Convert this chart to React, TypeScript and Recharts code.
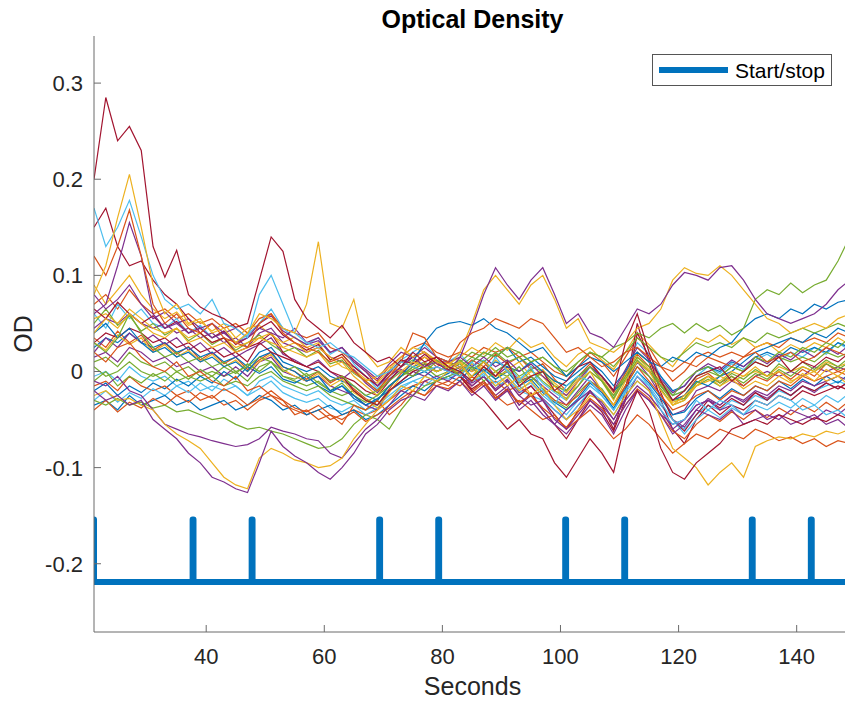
import { ComposedChart, Line, XAxis, YAxis, Legend } from "recharts"

// time grid (s)
const seconds = [
  21, 23, 25, 27, 29, 31, 33, 35, 37, 39,
  41, 43, 45, 47, 49, 51, 53, 55, 57, 59,
  61, 63, 65, 67, 69, 71, 73, 75, 77, 79,
  81, 83, 85, 87, 89, 91, 93, 95, 97, 99,
  101, 103, 105, 107, 109, 111, 113, 115, 117, 119,
  121, 123, 125, 127, 129, 131, 133, 135, 137, 139,
  141, 143, 145, 147, 149,
]

// channel traces in milli-OD
const m1 = [70, 80, 65, 85, 70, 60, 65, 55, 60, 50, 55, 45, 50, 40, 55, 60, 45, 40, 35, 40, 25, 20, 10, 0, -10, 5, 15, 25, 30, 20, 15, 20, 15, 25, 20, 25, 15, 20, 10, 0, -5, 5, 20, 10, -5, 15, 35, 25, 5, -10, 0, 15, 20, 15, 20, 15, 25, 30, 25, 35, 30, 35, 30, 40, 35]
const m2 = [45, 55, 50, 60, 50, 45, 50, 40, 45, 35, 40, 30, 35, 25, 40, 45, 30, 25, 20, 25, 15, 10, 5, -5, -15, 0, 10, 15, 20, 10, 10, 5, 0, 10, -5, 5, -10, -5, -15, -25, -35, -20, -5, -20, -40, -15, 10, -5, -25, -45, -40, -20, -15, -20, -10, -15, -5, 0, -5, 0, -5, 5, 0, 5, 0]
const m3 = [25, 35, 30, 40, 30, 25, 30, 20, 25, 15, 20, 10, 15, 5, 20, 25, 10, 5, 0, 5, -5, -10, -15, -25, -30, -15, -5, 5, 10, 0, 5, 0, 10, 20, 15, 25, 10, 15, 5, -5, -10, 0, 10, 0, -15, 0, 20, 10, -5, -20, -15, 0, 5, 0, 10, 5, 15, 20, 15, 25, 20, 25, 20, 30, 25]
const m4 = [10, 15, 5, 20, 10, 5, 10, 0, 5, -5, 0, -5, 0, -10, 5, 10, -5, -10, -15, -10, -20, -25, -20, -30, -35, -20, -10, 0, 5, -5, 0, 5, 15, 10, 20, 10, 15, 5, 0, -10, -15, -5, 5, -5, -20, -5, 10, 0, -10, -25, -20, -5, 0, -5, 5, 0, 10, 5, 15, 10, 15, 10, 20, 15, 20]
const m5 = [-5, 0, -10, 5, -5, -10, -5, -15, -10, -20, -15, -20, -15, -25, -10, -5, -15, -20, -25, -20, -30, -35, -30, -40, -35, -25, -15, -10, -5, -10, -5, 0, -10, -5, -15, -10, -20, -25, -30, -40, -50, -35, -20, -30, -45, -25, -10, -20, -35, -50, -60, -45, -35, -40, -30, -35, -25, -30, -20, -25, -15, -20, -15, -10, -15]
const m6 = [30, 40, 35, 45, 40, 30, 35, 25, 30, 20, 25, 15, 20, 10, 30, 40, 20, 10, 5, 10, 0, -5, -10, -20, -25, -10, 5, 15, 20, 10, 5, -5, -15, -5, -20, -10, -25, -15, -30, -45, -60, -40, -20, -35, -60, -20, 50, 10, -30, -60, -75, -50, -35, -45, -35, -40, -30, -35, -25, -30, -20, -25, -20, -15, -20]
const m7 = [55, 60, 50, 65, 55, 45, 40, 45, 35, 40, 30, 35, 25, 30, 35, 40, 25, 20, 15, 20, 5, 10, -5, -15, -25, -5, 10, 5, 15, 10, 0, 10, 0, 5, -5, 0, -10, 0, -5, -20, -25, -15, 0, -10, -30, -5, 20, 10, -10, -35, -30, -15, -10, -5, -10, -5, 0, -5, 5, 0, 5, 0, 10, 5, 10]
const m8 = [-15, -10, -20, -5, -15, -20, -15, -25, -20, -30, -25, -35, -30, -40, -30, -25, -35, -40, -45, -40, -50, -45, -40, -45, -40, -30, -20, -15, -10, -15, -10, -15, -5, -15, -10, -20, -15, -25, -20, -30, -35, -25, -10, -20, -35, -15, 5, -10, -25, -40, -35, -25, -20, -30, -20, -25, -15, -20, -10, -15, -5, -10, -5, 0, -5]
const m9 = [15, 20, 10, 25, 20, 10, 15, 5, 10, 0, 5, -5, 5, -5, 10, 15, 0, -5, -10, -5, -15, -20, -25, -35, -40, -20, -10, 0, -5, 5, 0, -5, -20, -10, -25, -15, -35, -25, -40, -55, -65, -50, -35, -45, -65, -40, -20, -30, -45, -55, -50, -35, -30, -35, -25, -30, -20, -25, -15, -20, -10, -15, -10, -5, -10]
const m10 = [-35, -30, -40, -25, -35, -30, -25, -35, -30, -40, -35, -30, -40, -35, -25, -30, -40, -35, -45, -40, -35, -45, -40, -50, -45, -35, -25, -15, -20, -10, -5, -10, 5, 0, 10, 5, 0, 10, 0, -10, -15, -5, 5, -5, -20, -10, 10, 0, -15, -30, -25, -10, -15, -5, 0, 10, 20, 25, 30, 35, 30, 40, 35, 45, 40]
const m11 = [5, -5, 0, 10, 0, -5, 0, -10, -5, -10, -5, -15, -10, -15, -5, 0, -10, -15, -20, -15, -25, -30, -35, -40, -30, -15, -5, 5, 0, 10, 5, 10, 20, 15, 25, 15, 20, 10, 15, 5, -5, 10, 20, 15, 5, 20, 35, 25, 15, 10, 20, 30, 25, 30, 25, 35, 30, 40, 35, 40, 45, 40, 45, 50, 45]
const n1 = [60, 45, 70, 55, 65, 50, 45, 55, 40, 48, 35, 42, 30, 38, 50, 65, 45, 35, 28, 35, 18, 25, 8, -5, -18, 0, 12, 20, 28, 15, 10, 18, 5, 12, 0, 8, -8, 2, -12, -22, -30, -15, 5, -8, -28, 0, 30, 18, -5, -25, -20, -5, 5, -2, 8, 2, 12, 18, 10, 20, 15, 25, 18, 30, 22]
const n2 = [35, 25, 42, 30, 38, 22, 30, 18, 26, 12, 20, 8, 15, 2, 12, 20, 5, 0, -8, 0, -12, -5, -18, -28, -35, -18, -2, 8, 15, 5, 10, 2, 12, 5, 18, 8, 15, 2, 8, -8, -20, -5, 8, -5, -22, -2, 18, 5, -12, -30, -25, -8, -2, -12, -5, -15, -5, -10, 0, -8, 2, -5, 8, 0, 5]
const n3 = [90, 70, 85, 100, 80, 65, 55, 62, 48, 52, 42, 50, 35, 45, 48, 38, 30, 36, 25, 30, 12, 18, 2, -8, -12, 2, 15, 25, 20, 12, 8, 15, 25, 18, 30, 22, 35, 25, 30, 15, 5, 18, 25, 12, 2, 20, 40, 28, 15, 5, 22, 35, 30, 38, 28, 35, 25, 30, 20, 28, 22, 30, 25, 35, 28]
const n4 = [20, 35, 25, 40, 30, 38, 28, 35, 22, 30, 18, 25, 15, 22, 28, 35, 18, 12, 5, 12, 0, -8, 2, -12, -22, -8, 2, -5, 8, 0, 5, -2, -12, -5, -18, -8, -22, -15, -28, -40, -50, -35, -22, -32, -50, -28, -5, -18, -35, -50, -58, -40, -28, -35, -25, -32, -22, -28, -18, -25, -15, -22, -12, -18, -10]
const n5 = [50, 65, 48, 58, 42, 50, 38, 45, 32, 40, 28, 35, 22, 30, 38, 28, 20, 25, 15, 22, 8, 12, -2, -10, -20, -5, 5, 12, 5, 12, 2, 8, -5, 5, -8, 2, -12, -5, -18, -30, -38, -22, -10, -18, -35, -15, 5, -5, -18, -35, -30, -15, -8, -15, -5, -12, -2, -8, 2, -5, 5, 0, 8, 2, 10]
const n6 = [-20, -12, -25, -15, -22, -12, -18, -8, -15, -5, -12, 0, -8, 5, -2, 5, -8, -12, -5, -15, -22, -15, -28, -35, -28, -20, -12, -5, 0, -8, -2, 5, -5, 2, -8, 0, -15, -8, -22, -32, -40, -28, -12, -22, -38, -18, 0, -12, -28, -45, -42, -28, -20, -28, -18, -25, -15, -20, -10, -18, -8, -15, -5, -12, -2]
const n7 = [65, 55, 72, 60, 50, 58, 45, 52, 40, 45, 35, 42, 28, 35, 45, 52, 38, 30, 22, 28, 12, 18, 5, -5, -15, -2, 12, 8, 18, 8, 2, -5, -18, -10, -28, -18, -35, -22, -40, -55, -70, -50, -30, -42, -62, -30, 40, 15, -22, -50, -62, -45, -30, -38, -28, -35, -22, -30, -18, -25, -15, -20, -12, -18, -10]
const n8 = [-30, -20, -32, -22, -28, -18, -25, -15, -22, -12, -20, -8, -15, -25, -18, -10, -22, -28, -32, -28, -38, -42, -35, -45, -38, -28, -18, -10, -15, -5, -8, 0, -10, -2, -12, -5, -18, -12, -25, -35, -45, -30, -15, -25, -40, -22, -5, -15, -32, -50, -65, -50, -40, -48, -38, -45, -35, -40, -32, -38, -28, -35, -25, -32, -22]
const n9 = [30, 22, 38, 28, 35, 20, 28, 15, 22, 10, 18, 5, 12, 0, 10, 18, 2, -5, -10, -2, -15, -8, -22, -30, -38, -22, -5, 2, 10, 0, 5, -2, 8, 0, 12, 2, 10, -5, 2, -12, -22, -8, 5, -8, -25, -5, 15, 2, -15, -32, -28, -12, -5, -15, -8, -18, -10, -15, -5, -12, -2, -10, 2, -5, 5]
const n10 = [-10, 0, -15, -5, -12, -2, -10, 0, -8, 2, -5, 5, -2, 8, 0, 10, -5, -8, -2, -12, -20, -12, -25, -32, -25, -15, -5, 2, 8, 0, 5, 12, 2, 10, 0, 8, -5, 2, -10, -20, -28, -15, 0, -10, -28, -8, 12, 0, -15, -30, -28, -12, -5, -12, -2, -8, 2, -5, 8, 0, 10, 2, 12, 5, 15]
const n11 = [80, 65, 75, 90, 70, 55, 62, 50, 55, 45, 50, 40, 45, 35, 50, 58, 42, 35, 28, 32, 20, 25, 12, 2, -8, 8, 20, 15, 25, 15, 10, 15, 5, 15, 5, 12, 0, 8, -5, -15, -25, -10, 5, -5, -20, 2, 25, 12, -8, -22, -15, 0, 8, 2, 12, 5, 15, 8, 18, 12, 22, 15, 25, 18, 28]
const n12 = [-40, -30, -42, -32, -38, -28, -35, -25, -32, -22, -28, -18, -25, -35, -28, -20, -30, -38, -42, -35, -45, -50, -42, -52, -45, -38, -28, -20, -25, -15, -18, -10, -22, -12, -28, -20, -32, -25, -38, -48, -58, -42, -28, -38, -55, -35, -18, -28, -45, -62, -70, -55, -45, -52, -42, -50, -40, -48, -38, -45, -35, -42, -32, -40, -30]
const r1 = [200, 285, 240, 255, 230, 130, 98, 126, 80, 67, 60, 55, 46, 50, 95, 140, 125, 75, 55, 45, 35, 48, 30, 20, 10, 15, 5, 20, 10, 15, 5, 0, -10, 5, -5, 10, -15, -5, 0, -20, -10, 5, 10, -5, -20, 30, 60, 20, -10, -30, -20, -5, 0, 5, -10, 0, 10, 5, 15, 0, 10, 5, 15, 10, 20]
const y1 = [80, 110, 160, 205, 150, 90, 60, 70, 50, 55, 40, 45, 30, 40, 60, 55, 45, 40, 70, 135, 50, 45, 75, 20, 5, 10, 25, 15, 20, 10, 5, 10, -10, 0, -15, -5, -20, -10, -25, -15, -30, -10, 0, -20, -35, -10, 10, 0, -20, -35, -25, -15, -5, -10, 0, -5, 5, -5, 0, -10, -5, 0, -10, -5, -15]
const lb1 = [170, 130, 150, 178, 140, 100, 75, 65, 70, 60, 75, 50, 45, 35, 80, 100, 70, 40, 30, 25, 30, 20, 15, 5, -5, 0, 10, 5, 0, 5, 0, -5, 10, -5, 15, 0, -10, 5, -20, -35, -15, -5, -10, -25, -40, -20, 0, -15, -40, -55, -50, -30, -40, -30, -35, -45, -30, -35, -25, -30, -40, -35, -45, -40, -50]
const o1 = [120, 100, 130, 168, 120, 70, 50, 60, 45, 40, 50, 35, 30, 25, 50, 60, 40, 30, 25, 20, 10, 15, 0, -10, -20, -5, 10, 40, 35, 15, 10, 30, 40, 45, 55, 50, 45, 55, 50, 35, 20, 25, 15, 5, 10, 20, 25, 15, 5, 0, 10, 5, 15, 10, 5, 15, 20, 10, 15, 20, 10, 15, 25, 20, 15]
const p1 = [60, 70, 110, 155, 120, 60, 45, 50, 40, 45, 35, 40, 30, 35, 45, 40, 35, 45, 30, 35, 20, 25, 10, 0, -15, -5, 5, 15, 5, 10, 0, 15, 45, 80, 108, 90, 75, 95, 108, 80, 50, 60, 40, 35, 25, 45, 65, 60, 70, 90, 103, 100, 95, 108, 110, 95, 75, 60, 55, 50, 55, 60, 70, 85, 95]
const y2 = [40, 55, 45, 60, 50, 40, 35, 45, 30, 35, 25, 30, 20, 25, 35, 30, 25, 30, 20, 25, 15, 5, 0, -10, -5, 5, 0, 10, 5, 0, 5, 20, 50, 85, 100, 85, 70, 90, 100, 75, 45, 55, 30, 25, 20, 30, 45, 50, 65, 95, 108, 102, 100, 110, 100, 85, 70, 55, 50, 40, 45, 50, 45, 55, 60]
const g1 = [30, 20, 35, 60, 40, 25, 15, 20, 10, 15, 5, 10, 0, 5, 15, 10, 0, 5, -5, 0, -10, -5, -15, -25, -20, -10, 0, -5, 5, 0, 5, -5, 10, 20, 15, 25, 20, 10, 15, 5, 0, 10, 20, 15, 25, 30, 40, 35, 45, 50, 40, 50, 42, 48, 38, 45, 75, 85, 80, 92, 82, 90, 95, 115, 140]
const p2 = [-20, -30, -25, -35, -30, -50, -60, -70, -85, -95, -110, -115, -122, -126, -95, -62, -78, -88, -95, -105, -112, -100, -85, -65, -55, -40, -30, -25, -30, -15, -20, -10, -25, -15, -30, -20, -40, -30, -45, -55, -40, -30, -20, -35, -50, -30, -15, -25, -40, -60, -50, -35, -30, -40, -35, -45, -40, -50, -45, -55, -50, -45, -55, -50, -60]
const p3 = [-10, -15, -5, -20, -25, -40, -55, -60, -65, -68, -72, -75, -78, -76, -70, -58, -62, -65, -70, -72, -85, -90, -75, -60, -50, -35, -20, -25, -10, -5, -10, 0, -15, -5, -20, -10, -25, -35, -30, -50, -60, -45, -30, -40, -55, -35, -20, -30, -45, -65, -55, -40, -45, -50, -40, -55, -50, -45, -50, -40, -45, -50, -40, -45, -35]
const y3 = [-25, -20, -30, -28, -35, -40, -55, -65, -72, -80, -95, -110, -118, -122, -90, -80, -85, -92, -95, -100, -98, -90, -70, -55, -40, -30, -15, -20, -5, -10, 0, 5, -5, 10, 0, -15, -5, -25, -15, -35, -50, -40, -25, -30, -45, -25, -10, -20, -50, -80, -90, -100, -118, -105, -95, -110, -78, -72, -68, -70, -65, -68, -62, -65, -60]
const g2 = [-30, -35, -28, -35, -32, -38, -35, -42, -40, -45, -50, -48, -55, -60, -58, -62, -65, -70, -75, -80, -78, -70, -55, -45, -50, -60, -40, -25, -15, -10, -5, 0, 5, -10, 0, -5, 5, -10, 0, -15, -20, -5, 5, -10, -25, -5, 15, 5, -15, -25, -10, 0, 5, -5, 5, 0, 15, 10, 20, 15, 25, 20, 30, 25, 35]
const r2 = [150, 170, 130, 110, 115, 95, 80, 70, 55, 40, 30, 35, 20, 25, 30, 20, 15, 10, 5, 0, -10, -5, -20, -30, -35, -20, -10, 0, 5, 15, 5, -5, -20, -30, -45, -60, -50, -65, -70, -95, -110, -90, -70, -85, -105, -50, -20, -40, -80, -105, -112, -95, -85, -75, -60, -55, -50, -55, -45, -50, -55, -48, -52, -45, -50]
const o2 = [20, 10, 25, 30, 15, 5, 0, 10, -5, 0, -10, -15, -5, -20, -15, -25, -30, -45, -40, -50, -45, -55, -35, -40, -30, -45, -35, -20, -25, -10, -15, -5, -20, -10, -25, -35, -30, -40, -50, -45, -60, -50, -40, -55, -70, -60, -45, -55, -70, -85, -75, -65, -70, -60, -65, -70, -60, -65, -72, -68, -75, -70, -78, -72, -75]
const b1 = [40, 50, 35, 45, 30, 20, 25, 15, 20, 10, 15, 5, 10, 0, 15, 20, 5, 0, -10, -5, -20, -15, -25, -35, -30, -15, -5, 10, 30, 45, 50, 52, 48, 55, 45, 40, 30, 20, 25, 10, -5, 5, 15, 10, 0, 10, 20, 10, 5, 15, 10, 20, 15, 25, 30, 45, 55, 60, 55, 65, 60, 70, 65, 72, 75]

// stimulus marks
const stimTimes = [37.7, 47.7, 69.3, 79.3, 100.8, 110.8, 132.4, 142.4]
const stimLow = -0.219
const stimHigh = -0.154

const yTicks = [-0.2, -0.1, 0, 0.1, 0.2, 0.3]
const xTicks = [40, 60, 80, 100, 120, 140]

const BLUE = "#0072BD"
const ORANGE = "#D95319"
const YELLOW = "#EDB120"
const PURPLE = "#7E2F8E"
const GREEN = "#77AC30"
const CYAN = "#4DBEEE"
const RED = "#A2142F"

const series = [
  { key: "m1", values: m1, color: ORANGE },
  { key: "n1", values: n1, color: CYAN },
  { key: "m2", values: m2, color: PURPLE },
  { key: "n2", values: n2, color: ORANGE },
  { key: "m3", values: m3, color: BLUE },
  { key: "n3", values: n3, color: YELLOW },
  { key: "m4", values: m4, color: GREEN },
  { key: "n4", values: n4, color: PURPLE },
  { key: "m5", values: m5, color: CYAN },
  { key: "n5", values: n5, color: GREEN },
  { key: "m6", values: m6, color: RED },
  { key: "n6", values: n6, color: BLUE },
  { key: "m7", values: m7, color: YELLOW },
  { key: "n7", values: n7, color: RED },
  { key: "m8", values: m8, color: ORANGE },
  { key: "n8", values: n8, color: CYAN },
  { key: "m9", values: m9, color: PURPLE },
  { key: "n9", values: n9, color: YELLOW },
  { key: "m10", values: m10, color: BLUE },
  { key: "n10", values: n10, color: GREEN },
  { key: "m11", values: m11, color: GREEN },
  { key: "n11", values: n11, color: PURPLE },
  { key: "n12", values: n12, color: ORANGE },
  { key: "b1", values: b1, color: BLUE },
  { key: "o2", values: o2, color: ORANGE },
  { key: "g2", values: g2, color: GREEN },
  { key: "p3", values: p3, color: PURPLE },
  { key: "y3", values: y3, color: YELLOW },
  { key: "p2", values: p2, color: PURPLE },
  { key: "r2", values: r2, color: RED },
  { key: "g1", values: g1, color: GREEN },
  { key: "y2", values: y2, color: YELLOW },
  { key: "p1", values: p1, color: PURPLE },
  { key: "o1", values: o1, color: ORANGE },
  { key: "lb1", values: lb1, color: CYAN },
  { key: "y1", values: y1, color: YELLOW },
  { key: "r1", values: r1, color: RED },
]

const table = seconds.map((x, i) => {
  const row: Record<string, number> = { x }
  series.forEach((s) => {
    row[s.key] = s.values[i] / 1000
  })
  return row
})

const stimData: { x: number; stim: number }[] = [
  { x: 21, stim: stimHigh },
  { x: 21, stim: stimLow },
]
stimTimes.forEach((t) => {
  stimData.push({ x: t, stim: stimLow })
  stimData.push({ x: t, stim: stimHigh })
  stimData.push({ x: t + 0.15, stim: stimHigh })
  stimData.push({ x: t + 0.15, stim: stimLow })
})
stimData.push({ x: 149.2, stim: stimLow })

const FONT = "'Liberation Sans', Arial, Helvetica, sans-serif"
const AXIS = "#6b6b6b"
const TEXT = "#262626"

const YTick = (props: any) => {
  const { x, y, payload } = props
  return (
    <g>
      <line x1={x} x2={x + 7} y1={y} y2={y} stroke={AXIS} />
      <text x={x - 11} y={y + 8} textAnchor="end" fontSize={22} fill={TEXT} fontFamily={FONT}>
        {String(payload.value)}
      </text>
    </g>
  )
}

const XTick = (props: any) => {
  const { x, y, payload } = props
  return (
    <g>
      <line x1={x} x2={x} y1={y} y2={y - 7} stroke={AXIS} />
      <text x={x} y={y + 32} textAnchor="middle" fontSize={22} fill={TEXT} fontFamily={FONT}>
        {String(payload.value)}
      </text>
    </g>
  )
}

const LegendBox = () => (
  <div style={{ width: 180, height: 32, boxSizing: "border-box", border: "1px solid #555", background: "#fff" }}>
    <svg width={178} height={30} style={{ display: "block" }}>
      <line x1={6} x2={75} y1={15} y2={15} stroke={BLUE} strokeWidth={6} />
      <text x={82} y={22.5} fontSize={21} fill="#000" fontFamily={FONT}>
        Start/stop
      </text>
    </svg>
  </div>
)

export default function App() {
  return (
    <div style={{ position: "absolute", left: 0, top: 0, width: 845, height: 702, overflow: "hidden", background: "#fff", fontFamily: FONT }}>
      <div style={{ position: "absolute", left: 0, top: 5, width: 945, textAlign: "center", fontSize: 25, fontWeight: "bold", color: "#000", zIndex: 2 }}>
        Optical Density
      </div>
      <ComposedChart width={870} height={702} data={table} margin={{ top: 36, right: 19, bottom: 0, left: 34 }}>
        <XAxis
          dataKey="x"
          type="number"
          domain={[21, 149.2]}
          allowDataOverflow
          ticks={xTicks}
          interval={0}
          height={70}
          tickSize={0}
          tickMargin={0}
          tickLine={false}
          axisLine={{ stroke: AXIS }}
          tick={<XTick />}
          label={{ value: "Seconds", position: "insideBottom", offset: 7, fontSize: 25, fill: TEXT, fontFamily: FONT }}
        />
        <YAxis
          type="number"
          domain={[-0.271, 0.349]}
          allowDataOverflow
          ticks={yTicks}
          interval={0}
          width={60}
          tickSize={0}
          tickMargin={0}
          tickLine={false}
          axisLine={{ stroke: AXIS }}
          tick={<YTick />}
          label={{
            content: () => (
              <text x={23} y={334} transform="rotate(-90 23 334)" textAnchor="middle" dominantBaseline="central" fontSize={25} fill={TEXT} fontFamily={FONT}>
                OD
              </text>
            ),
          }}
        />
        {series.map((s) => (
          <Line
            key={s.key}
            dataKey={s.key}
            stroke={s.color}
            strokeWidth={1.2}
            dot={false}
            activeDot={false}
            isAnimationActive={false}
            legendType="none"
          />
        ))}
        <Line
          data={stimData}
          dataKey="stim"
          stroke={BLUE}
          strokeWidth={6}
          strokeLinecap="round"
          strokeLinejoin="round"
          dot={false}
          activeDot={false}
          isAnimationActive={false}
        />
        <Legend
          verticalAlign="middle"
          layout="horizontal"
          wrapperStyle={{ top: 54, left: 652, width: 180, height: 32 }}
          content={() => <LegendBox />}
        />
      </ComposedChart>
    </div>
  )
}
